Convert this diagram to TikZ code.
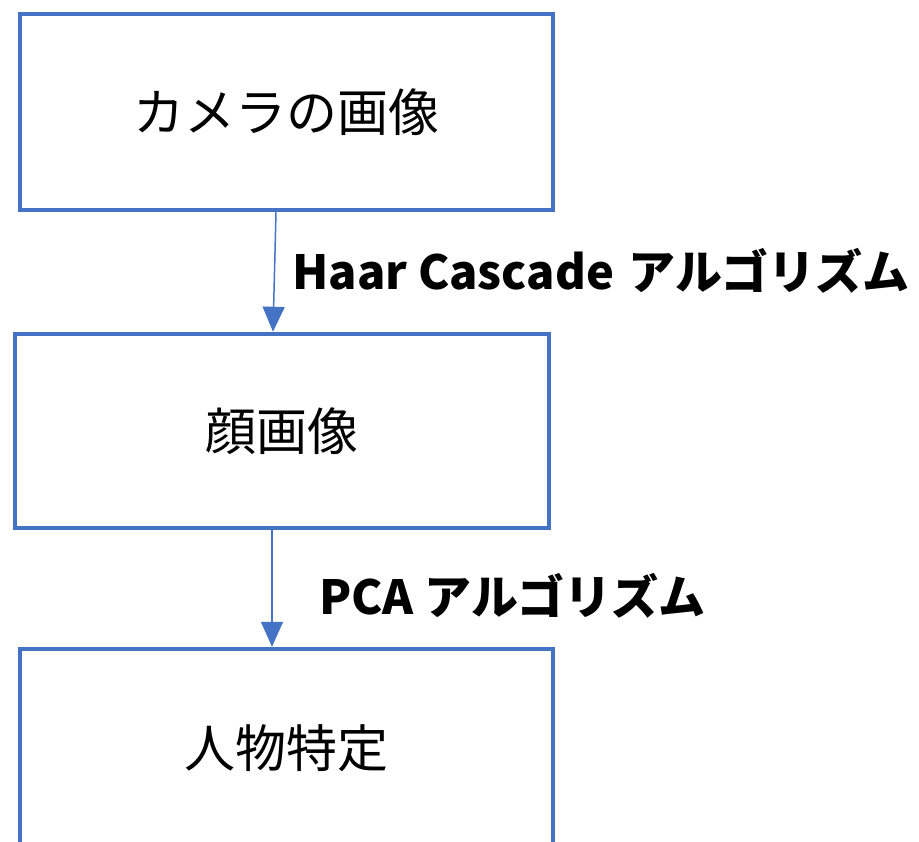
\documentclass[tikz,border=0pt]{standalone}
\usepackage{fontspec}
\newfontfamily\cjk{Noto Sans CJK JP}
\usetikzlibrary{arrows.meta}
\definecolor{boxblue}{HTML}{4472C4}
\begin{document}
\begin{tikzpicture}[x=1pt,y=-1pt,
  box/.style={draw=boxblue, line width=4.5pt, minimum width=533pt, inner sep=0pt,
    font=\cjk\fontsize{51}{55}\selectfont},
  flow/.style={draw=boxblue, line width=1.5pt, -{Triangle[length=25pt,width=22pt]}},
  lbl/.style={anchor=base west, inner sep=0pt, font=\cjk\bfseries\fontsize{47}{52}\selectfont}]
\useasboundingbox (0,0) rectangle (919,842);
\clip (0,0) rectangle (919,842);
\node[box, minimum height=196pt] (cam) at (286.5,112) {カメラの画像};
\node[box, minimum width=534pt, minimum height=194pt] (face) at (282,431) {顔画像};
\node[box, minimum height=198pt] (per) at (286.5,748) {人物特定};
\draw[flow] ([xshift=-10.5pt]cam.south) -- ([xshift=-9pt]face.north);
\draw[flow] ([xshift=-10pt]face.south) -- ([xshift=-14.5pt]per.north);
\node[lbl] (l1) at (292,290) {Haar Cascade\hspace{4pt} アルゴリズム};
\node[lbl] (l2) at (319,614) {PCA アルゴリズム};
\end{tikzpicture}
\end{document}
